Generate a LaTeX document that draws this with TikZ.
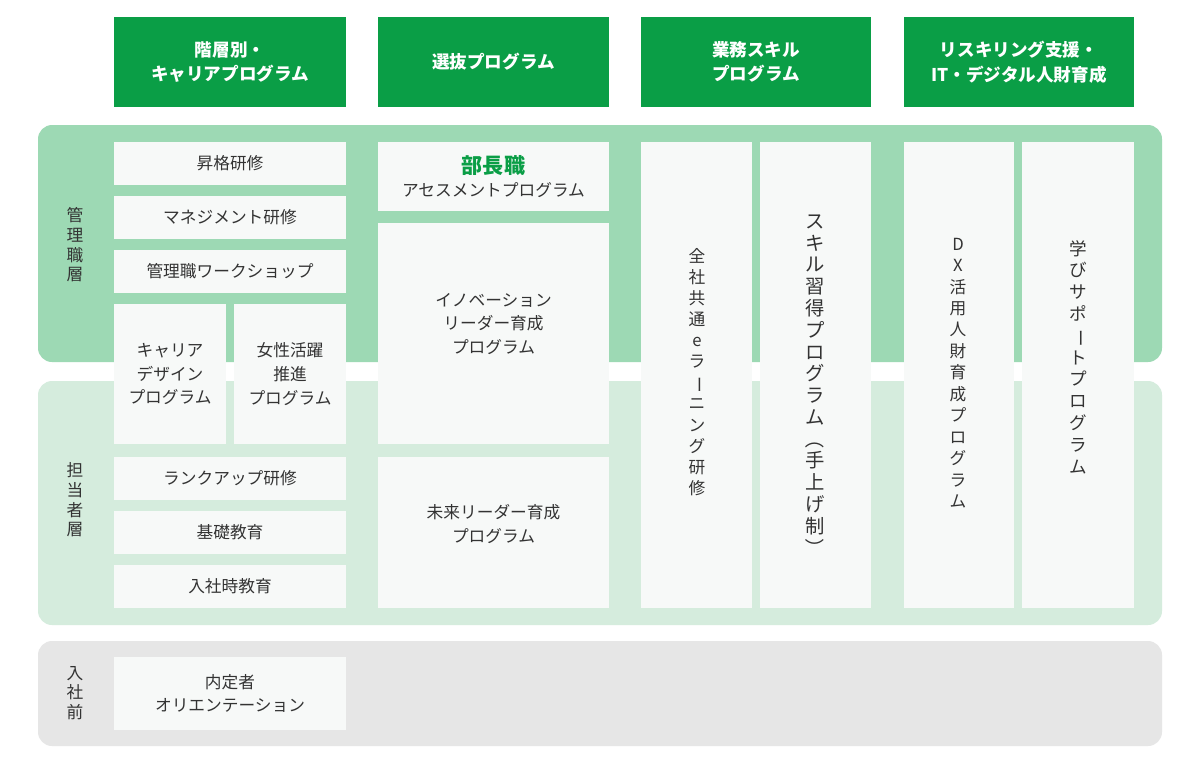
\documentclass[tikz,border=0pt]{standalone}
\usepackage{fontspec}
\setmainfont{Noto Sans CJK JP}
\definecolor{hdr}{HTML}{0A9E46}
\definecolor{mgr}{HTML}{9DD9B4}
\definecolor{stf}{HTML}{D5ECDD}
\definecolor{pre}{HTML}{E6E6E6}
\definecolor{wb}{HTML}{F7F9F8}
\definecolor{tx}{HTML}{333333}
\newcommand\bx[6]{\fill[wb] (#1,#2) rectangle (#3,#4);
  \node[txt] (#5) at ({(#1+#3)/2},{(#2+#4)/2}) {#6};}
\newcommand\hd[6]{\fill[hdr] (#1,#2) rectangle (#3,#4);
  \node[htxt] (#5) at ({(#1+#3)/2},{(#2+#4)/2}) {#6};}
\newcommand\vb{\rotatebox[origin=c]{-90}{ー}}
\begin{document}
\begin{tikzpicture}[x=0.02cm,y=-0.02cm,
  txt/.style={align=center,text=tx,font=\fontsize{9.5}{13.5}\selectfont},
  htxt/.style={align=center,text=white,font=\fontsize{10}{14}\selectfont\bfseries},
  vt/.style={align=center,text=tx,font=\fontsize{9.5}{11.2}\selectfont},
  band/.style={rounded corners=8}]
\useasboundingbox (0,0) rectangle (1200,762);
\fill[white] (0,0) rectangle (1200,762);
\hd{114}{17}{346}{107}{h1}{階層別・\\キャリアプログラム}
\hd{378}{17}{609}{107}{h2}{選抜プログラム}
\hd{641}{17}{871}{107}{h3}{業務スキル\\プログラム}
\hd{904}{17}{1134}{107}{h4}{リスキリング支援・\\IT・デジタル人財育成}
\fill[mgr,band] (38,125) rectangle (1162,362);
\fill[stf,band] (38,381) rectangle (1162,625);
\fill[pre,band] (38,641) rectangle (1162,746);
\node[vt] (l1) at (75,245) {管\\理\\職\\層};
\node[vt] (l2) at (75,500) {担\\当\\者\\層};
\node[vt] (l3) at (75,693) {入\\社\\前};
\bx{114}{142}{346}{185}{b1}{昇格研修}
\bx{114}{196}{346}{239}{b2}{マネジメント研修}
\bx{114}{250}{346}{293}{b3}{管理職ワークショップ}
\bx{114}{304}{226}{444}{b4}{キャリア\\デザイン\\プログラム}
\bx{234}{304}{346}{444}{b5}{女性活躍\\推進\\プログラム}
\bx{114}{457}{346}{500}{b6}{ランクアップ研修}
\bx{114}{511}{346}{554}{b7}{基礎教育}
\bx{114}{565}{346}{608}{b8}{入社時教育}
\bx{114}{657}{346}{730}{b9}{内定者\\オリエンテーション}
\bx{378}{142}{609}{211}{c1}{{\color{hdr}\bfseries\fontsize{12}{15}\selectfont 部長職}\\アセスメントプログラム}
\fill[wb] (378,223) rectangle (609,444);
\node[txt] (c2) at (493.5,324) {イノベーション\\リーダー育成\\プログラム};
\fill[wb] (378,457) rectangle (609,608);
\node[txt] (c3) at (493.5,524) {未来リーダー育成\\プログラム};
\fill[wb] (641,142) rectangle (752,608);
\fill[wb] (760,142) rectangle (871,608);
\fill[wb] (904,142) rectangle (1014,608);
\fill[wb] (1022,142) rectangle (1134,608);
\node[vt,font=\fontsize{9.5}{12}\selectfont] (d1) at (697,372) {全\\社\\共\\通\\e\\ラ\\\vb\\ニ\\ン\\グ\\研\\修};
\node[vt,font=\fontsize{11}{12.4}\selectfont] (d2) at (815,386) {ス\\キ\\ル\\習\\得\\プ\\ロ\\グ\\ラ\\ム\\\rotatebox[origin=c]{-90}{（}\\手\\上\\げ\\制\\\rotatebox[origin=c]{-90}{）}};
\node[vt,font=\fontsize{9.5}{12.2}\selectfont] (d3) at (958,373) {D\\X\\活\\用\\人\\財\\育\\成\\プ\\ロ\\グ\\ラ\\ム};
\node[vt,font=\fontsize{10}{12.4}\selectfont] (d4) at (1078,357) {学\\び\\サ\\ポ\\\vb\\ト\\プ\\ロ\\グ\\ラ\\ム};
\end{tikzpicture}
\end{document}
